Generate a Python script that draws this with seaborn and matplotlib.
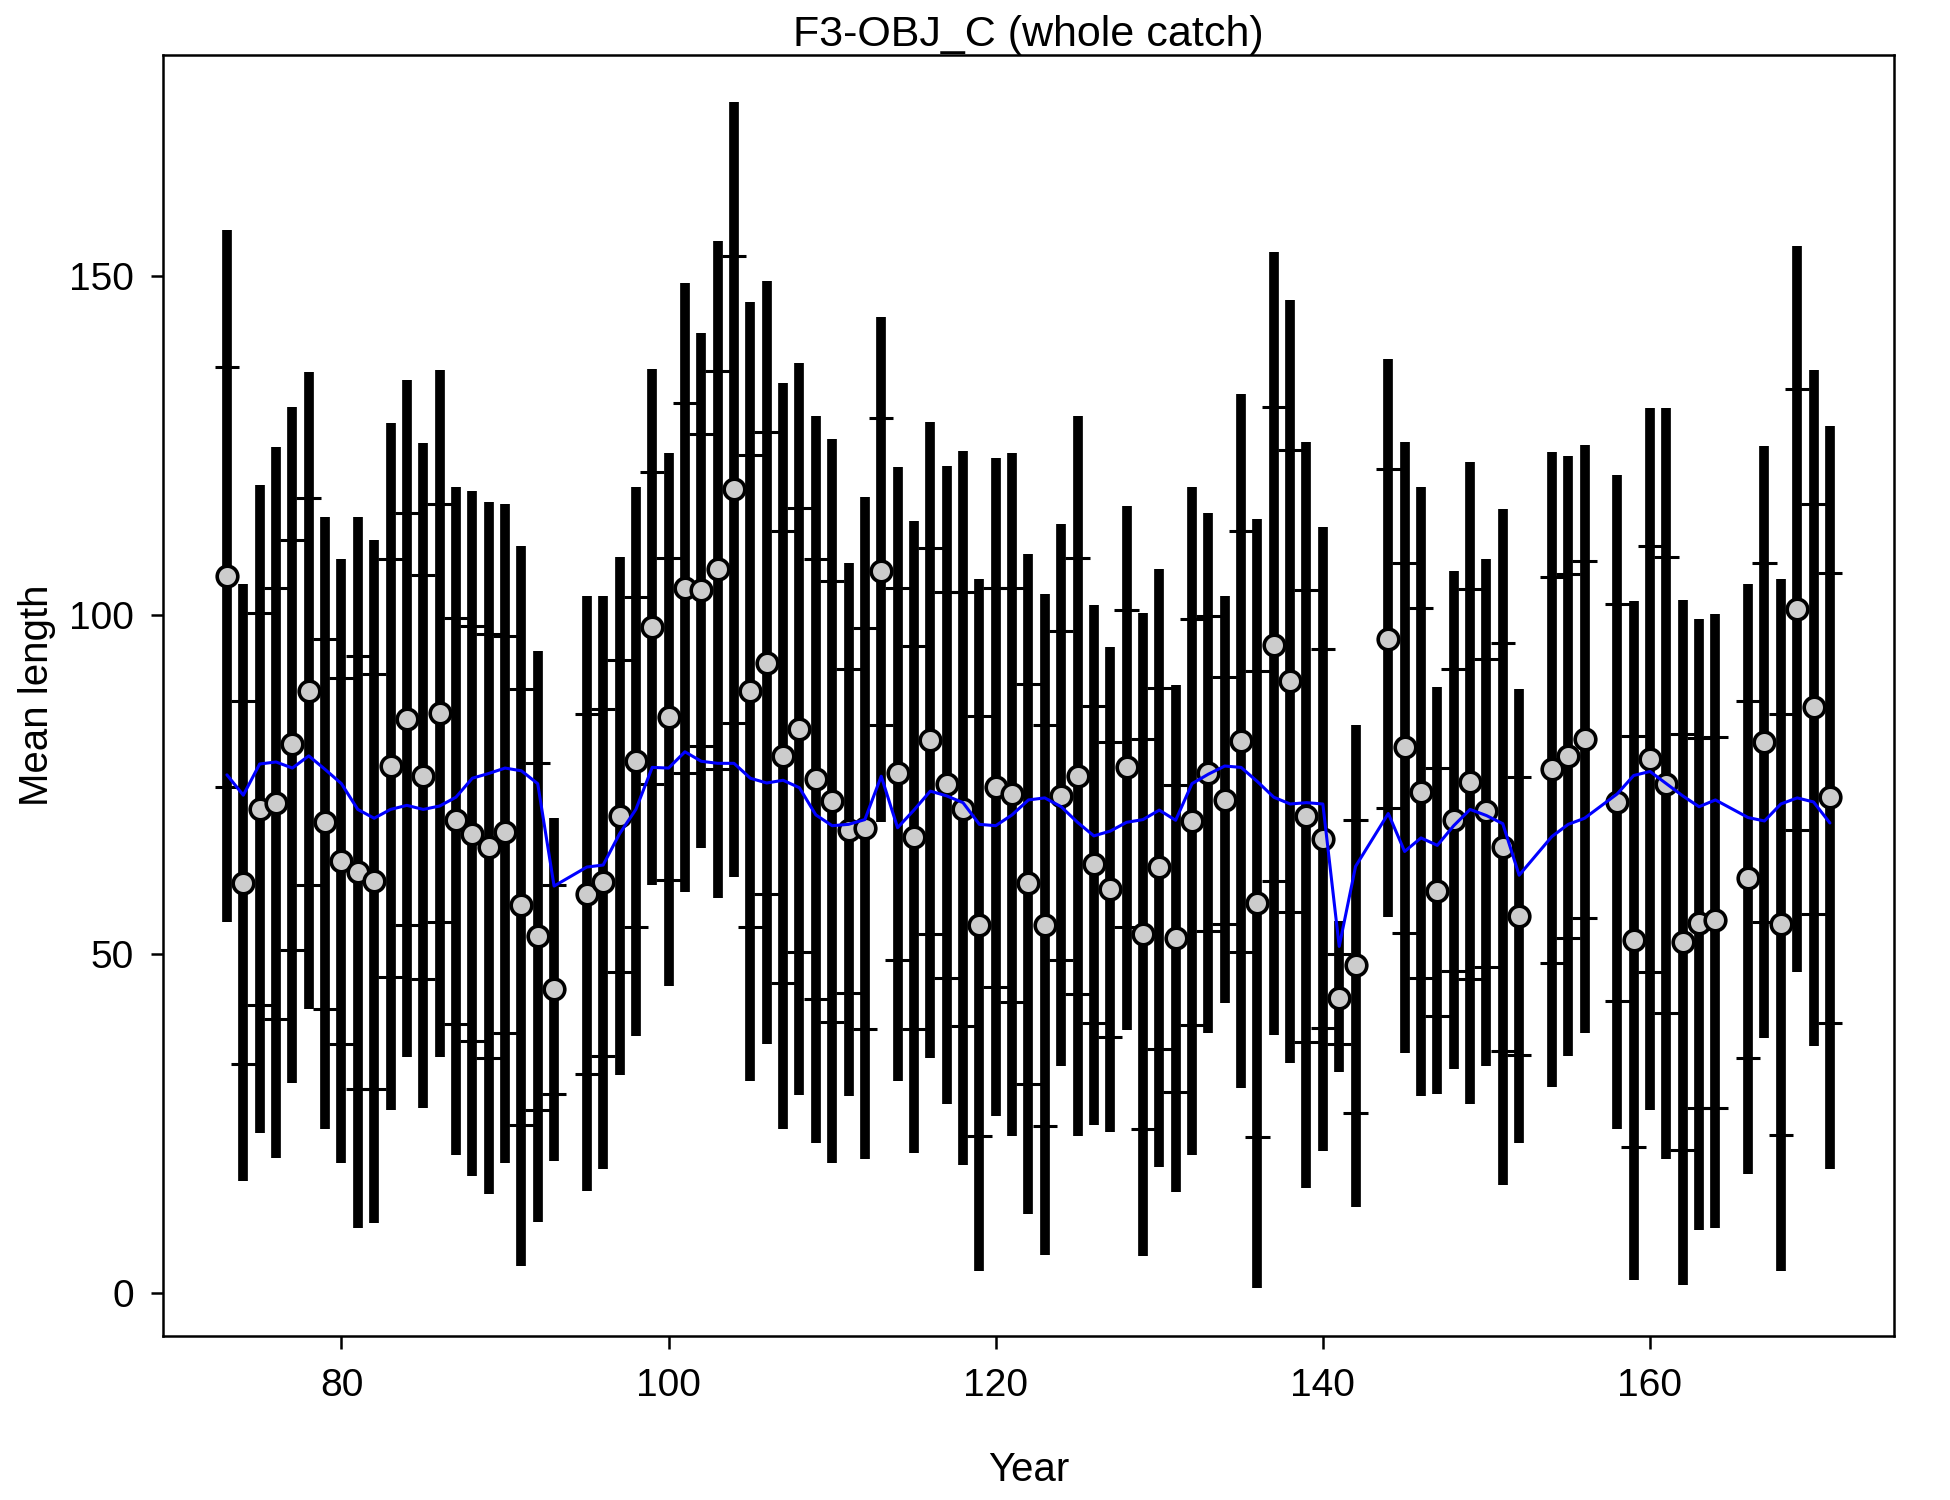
import numpy as np
import pandas as pd
import matplotlib
matplotlib.use("Agg")
import matplotlib.pyplot as plt
import seaborn as sns

# values
years = [73, 74, 75, 76, 77, 78, 79, 80, 81, 82, 83, 84, 85, 86, 87, 88, 89, 90,
         91, 92, 93, 95, 96, 97, 98, 99, 100, 101, 102, 103, 104, 105, 106, 107,
         108, 109, 110, 111, 112, 113, 114, 115, 116, 117, 118, 119, 120, 121,
         122, 123, 124, 125, 126, 127, 128, 129, 130, 131, 132, 133, 134, 135,
         136, 137, 138, 139, 140, 141, 142, 144, 145, 146, 147, 148, 149, 150,
         151, 152, 154, 155, 156, 158, 159, 160, 161, 162, 163, 164, 166, 167,
         168, 169, 170, 171]

bar_lo = [54.7, 16.5, 23.6, 19.9, 31.0, 41.8, 24.2, 19.2, 9.5, 10.3, 26.9, 34.8,
          27.2, 34.8, 20.4, 17.2, 14.6, 19.2, 3.9, 10.5, 19.4, 15.0, 18.3, 32.2,
          37.9, 60.1, 45.3, 59.1, 65.6, 58.2, 61.4, 31.3, 36.7, 24.1, 29.2, 22.1,
          19.1, 29.0, 19.7, 69.4, 31.3, 20.6, 34.6, 27.9, 18.8, 3.3, 26.1, 23.1,
          11.6, 5.6, 33.4, 23.1, 24.8, 23.7, 38.8, 5.5, 18.5, 14.9, 20.3, 38.3,
          42.7, 30.2, 0.7, 38.0, 33.9, 15.4, 20.9, 32.6, 12.7, 55.4, 35.4, 29.0,
          29.3, 33.0, 27.8, 33.5, 15.9, 22.1, 30.4, 35.0, 38.3, 24.2, 1.9, 26.9,
          19.7, 1.1, 9.3, 9.5, 17.6, 37.6, 3.3, 47.3, 36.4, 18.3]

bar_hi = [156.7, 104.5, 119.1, 124.7, 130.7, 135.8, 114.4, 108.3, 114.5, 111.1,
          128.3, 134.7, 125.4, 136.1, 118.9, 118.3, 116.7, 116.4, 110.2, 94.7,
          70.1, 102.8, 102.8, 108.6, 118.8, 136.2, 123.9, 148.9, 141.6, 155.2,
          175.6, 146.2, 149.2, 134.2, 137.1, 129.3, 126.0, 107.7, 117.4, 143.9,
          121.8, 113.9, 128.5, 122.0, 124.2, 105.3, 123.1, 123.9, 109.0, 103.1,
          113.4, 129.3, 101.5, 95.3, 116.1, 100.3, 106.8, 89.6, 118.8, 115.0,
          102.8, 132.5, 114.1, 153.5, 146.5, 125.5, 113.0, 54.8, 83.8, 137.8,
          125.5, 118.8, 89.3, 106.5, 122.6, 108.3, 115.6, 89.1, 124.0, 123.4,
          125.0, 120.6, 102.1, 130.5, 130.5, 102.2, 99.4, 100.1, 104.6, 124.9,
          105.3, 154.4, 136.1, 127.9]

tick_lo = [74.6, 33.8, 42.4, 40.4, 50.6, 60.1, 41.9, 36.7, 30.0, 30.0, 46.6, 54.3,
           46.3, 54.7, 39.7, 37.1, 34.7, 38.3, 24.8, 27.0, 29.3, 32.3, 34.9, 47.3,
           53.9, 75.1, 60.9, 76.6, 80.7, 77.2, 84.0, 53.9, 58.8, 45.7, 50.3, 43.3,
           40.0, 44.3, 38.9, 83.8, 49.1, 38.9, 52.9, 46.5, 39.4, 23.1, 45.1, 42.9,
           30.8, 24.6, 49.1, 44.1, 39.8, 37.7, 53.9, 24.2, 35.9, 29.6, 39.5, 53.4,
           54.4, 50.2, 23.0, 60.8, 56.1, 37.0, 39.1, 36.7, 26.6, 71.5, 53.1, 46.5,
           40.9, 47.5, 46.3, 48.1, 35.6, 35.1, 48.7, 52.4, 55.3, 43.1, 21.5, 47.3,
           41.3, 21.0, 27.3, 27.3, 34.6, 54.7, 23.3, 68.3, 55.9, 39.8]

tick_hi = [136.6, 87.3, 100.3, 104.0, 111.1, 117.3, 96.5, 90.7, 93.9, 91.3, 108.3,
           115.0, 105.8, 116.3, 99.6, 98.4, 97.1, 96.9, 89.1, 78.1, 60.2, 85.4,
           86.1, 93.4, 102.7, 121.1, 108.4, 131.2, 126.6, 136.0, 152.9, 123.6,
           127.0, 112.4, 115.8, 108.3, 105.0, 92.0, 98.1, 129.1, 104.0, 95.4,
           109.8, 103.4, 103.4, 85.1, 104.0, 104.0, 89.8, 83.8, 97.6, 108.4, 86.5,
           81.3, 100.7, 81.7, 89.2, 74.9, 99.4, 99.9, 90.8, 112.4, 91.7, 130.6,
           124.3, 103.6, 94.9, 50.0, 69.7, 121.5, 107.6, 101.0, 77.4, 92.0, 103.8,
           93.5, 95.9, 76.1, 105.6, 106.0, 107.9, 101.6, 82.2, 110.1, 108.5, 82.4,
           81.9, 82.0, 87.3, 107.6, 85.3, 133.3, 116.3, 106.2]

obs = [105.7, 60.5, 71.4, 72.3, 80.9, 88.8, 69.4, 63.7, 62.0, 60.8, 77.7, 84.7,
       76.3, 85.5, 69.7, 67.7, 65.7, 67.9, 57.2, 52.7, 44.8, 58.9, 60.6, 70.4,
       78.4, 98.2, 84.9, 103.9, 103.6, 106.7, 118.5, 88.7, 92.9, 79.2, 83.2,
       75.8, 72.6, 68.3, 68.5, 106.5, 76.6, 67.3, 81.6, 75.0, 71.4, 54.3, 74.6,
       73.6, 60.4, 54.3, 73.3, 76.3, 63.2, 59.5, 77.5, 52.9, 62.8, 52.3, 69.6,
       76.7, 72.7, 81.4, 57.5, 95.6, 90.2, 70.4, 67.0, 43.5, 48.3, 96.5, 80.5,
       73.9, 59.2, 69.8, 75.3, 71.0, 65.8, 55.6, 77.2, 79.2, 81.7, 72.4, 52.0,
       78.8, 75.1, 51.7, 54.5, 55.0, 61.2, 81.3, 54.4, 100.8, 86.4, 73.2]

exp = [76.4, 73.4, 78.0, 78.3, 77.4, 79.2, 77.2, 75.1, 71.3, 70.0, 71.3, 71.9,
       71.3, 71.8, 73.1, 75.9, 76.6, 77.4, 77.0, 75.1, 60.0, 62.8, 63.1, 67.7,
       71.3, 77.5, 77.4, 79.8, 78.4, 78.1, 78.1, 75.9, 75.2, 75.6, 74.5, 70.5,
       68.9, 69.1, 69.8, 76.2, 68.6, 71.2, 74.0, 73.3, 72.3, 69.1, 68.9, 70.5,
       72.7, 73.0, 71.7, 69.4, 67.4, 68.1, 69.4, 69.8, 71.2, 69.7, 75.1, 76.5,
       77.7, 77.5, 75.4, 73.1, 72.1, 72.3, 72.1, 51.1, 62.9, 70.7, 65.1, 67.1,
       66.0, 68.9, 71.3, 70.4, 69.2, 61.6, 67.3, 69.1, 70.0, 73.6, 76.3, 76.9,
       75.1, 73.3, 71.7, 72.7, 70.1, 69.6, 72.1, 73.0, 72.4, 69.3]

df = pd.DataFrame({"Year": years, "lo": bar_lo, "hi": bar_hi,
                   "tlo": tick_lo, "thi": tick_hi, "obs": obs, "exp": exp})

sns.set_style("white")
plt.rcParams["font.family"] = ["Liberation Sans", "DejaVu Sans"]
plt.rcParams["text.color"] = "black"
plt.rcParams["axes.labelcolor"] = "black"
plt.rcParams["xtick.color"] = "black"
plt.rcParams["ytick.color"] = "black"

fig = plt.figure(figsize=(19.5, 15), dpi=100)
ax = fig.add_axes([0.0835, 0.1096, 0.8878, 0.8539])

# thick intervals and short ticks
ax.vlines(df["Year"], df["lo"], df["hi"], color="black", linewidth=7.0,
          capstyle="butt", zorder=2)
hw = 0.75
ax.hlines(df["thi"], df["Year"] - hw, df["Year"] + hw, color="black",
          linewidth=2.2, zorder=2)
ax.hlines(df["tlo"], df["Year"] - hw, df["Year"] + hw, color="black",
          linewidth=2.2, zorder=2)

sns.scatterplot(data=df, x="Year", y="obs", ax=ax, s=220, color="#cccccc",
                edgecolor="black", linewidth=2.6, zorder=3, legend=False)
sns.lineplot(data=df, x="Year", y="exp", ax=ax, color="blue", linewidth=2.2,
             estimator=None, zorder=4, legend=False)

ax.set_xlim(69.08, 174.92)
ax.set_ylim(-6.3, 182.6)
ax.set_xticks([80, 100, 120, 140, 160])
ax.set_yticks([0, 50, 100, 150])

for s in ax.spines.values():
    s.set_visible(True)
    s.set_color("black")
    s.set_linewidth(1.8)

ax.tick_params(axis="both", direction="out", length=9, width=1.8,
               labelsize=28, colors="black", bottom=True, left=True)
ax.tick_params(axis="x", pad=14)
ax.tick_params(axis="y", pad=12)

ax.set_xlabel("Year", fontsize=29, labelpad=34)
ax.set_ylabel("Mean length", fontsize=29, labelpad=9)
ax.set_title("F3-OBJ_C (whole catch)", fontsize=31, pad=6)

fig.savefig("out.png", dpi=100)
plt.close(fig)
